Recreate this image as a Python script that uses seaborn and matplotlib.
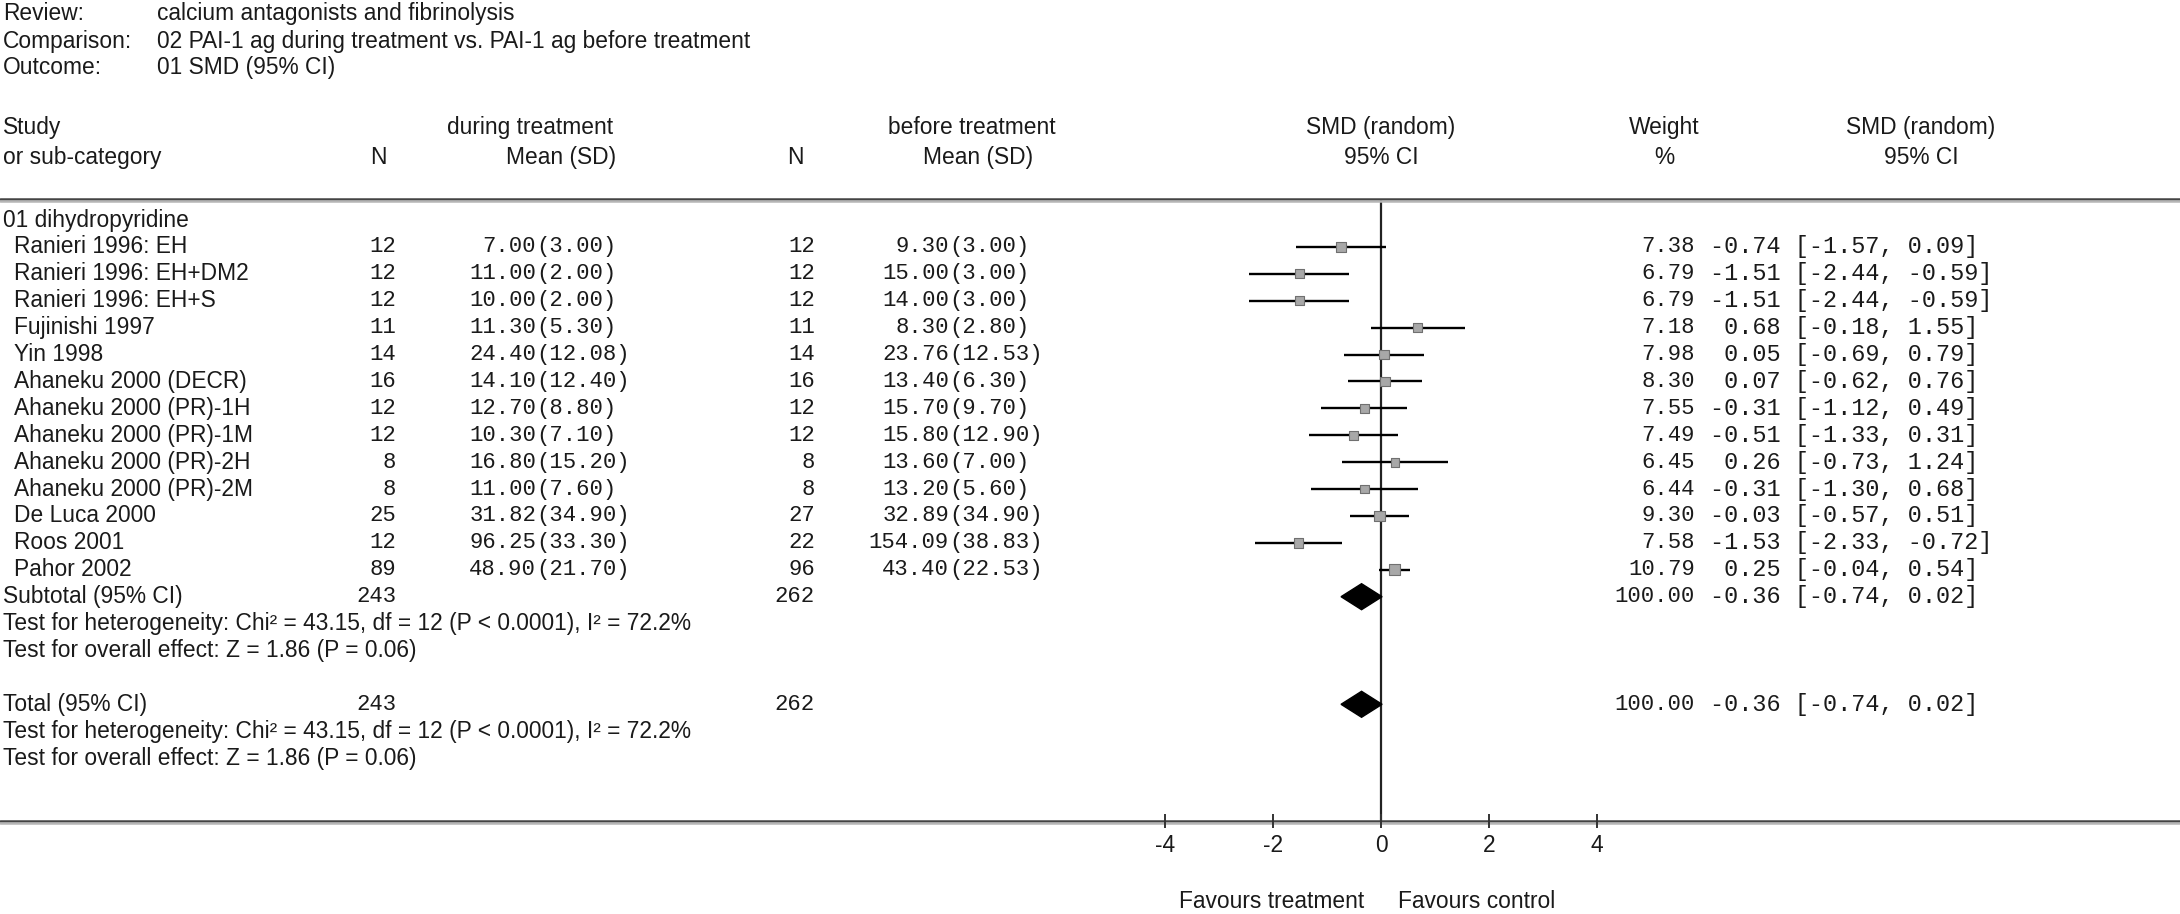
import numpy as np
import pandas as pd
import matplotlib
matplotlib.use("Agg")
import matplotlib.pyplot as plt
import matplotlib.transforms as mtransforms
import seaborn as sns

# ---- data ----
studies = ["Ranieri 1996: EH", "Ranieri 1996: EH+DM2", "Ranieri 1996: EH+S",
           "Fujinishi 1997", "Yin 1998", "Ahaneku 2000 (DECR)",
           "Ahaneku 2000 (PR)-1H", "Ahaneku 2000 (PR)-1M", "Ahaneku 2000 (PR)-2H",
           "Ahaneku 2000 (PR)-2M", "De Luca 2000", "Roos 2001", "Pahor 2002"]
n_during = [12, 12, 12, 11, 14, 16, 12, 12, 8, 8, 25, 12, 89]
mean_during = [7.00, 11.00, 10.00, 11.30, 24.40, 14.10, 12.70, 10.30, 16.80, 11.00, 31.82, 96.25, 48.90]
sd_during = [3.00, 2.00, 2.00, 5.30, 12.08, 12.40, 8.80, 7.10, 15.20, 7.60, 34.90, 33.30, 21.70]
n_before = [12, 12, 12, 11, 14, 16, 12, 12, 8, 8, 27, 22, 96]
mean_before = [9.30, 15.00, 14.00, 8.30, 23.76, 13.40, 15.70, 15.80, 13.60, 13.20, 32.89, 154.09, 43.40]
sd_before = [3.00, 3.00, 3.00, 2.80, 12.53, 6.30, 9.70, 12.90, 7.00, 5.60, 34.90, 38.83, 22.53]
weight = [7.38, 6.79, 6.79, 7.18, 7.98, 8.30, 7.55, 7.49, 6.45, 6.44, 9.30, 7.58, 10.79]
smd = [-0.74, -1.51, -1.51, 0.68, 0.05, 0.07, -0.31, -0.51, 0.26, -0.31, -0.03, -1.53, 0.25]
ci_lo = [-1.57, -2.44, -2.44, -0.18, -0.69, -0.62, -1.12, -1.33, -0.73, -1.30, -0.57, -2.33, -0.04]
ci_hi = [0.09, -0.59, -0.59, 1.55, 0.79, 0.76, 0.49, 0.31, 1.24, 0.68, 0.51, -0.72, 0.54]

pooled_smd, pooled_lo, pooled_hi = -0.36, -0.74, 0.02
total_during, total_before = 243, 262
x_ticks = [-4, -2, 0, 2, 4]

het_text = "Test for heterogeneity: Chi\u00b2 = 43.15, df = 12 (P < 0.0001), I\u00b2 = 72.2%"
eff_text = "Test for overall effect: Z = 1.86 (P = 0.06)"

df = pd.DataFrame({"study": studies, "smd": smd, "lo": ci_lo, "hi": ci_hi,
                   "weight": weight, "row": np.arange(len(studies))})

# ---- figure ----
sns.set_theme(style="white")
plt.rcParams["font.family"] = ["Liberation Sans", "DejaVu Sans"]
SANS = dict(family=["Liberation Sans", "DejaVu Sans"], fontsize=16.4, color="#1a1a1a")
MONO = dict(family=["Liberation Mono", "DejaVu Sans Mono"], fontsize=16, color="#1a1a1a")
MONO_CI = dict(MONO, fontsize=16.9)

W, H = 2180, 914
fig = plt.figure(figsize=(W / 100, H / 100), dpi=100)
ax = fig.add_axes([0, 0, 1, 1])
ax.axis("off")

ZERO_PX, UNIT_PX = 1381, 54.0
ROW0_PX, ROW_PX = 247, 26.9
ax.set_xlim(-ZERO_PX / UNIT_PX, (W - ZERO_PX) / UNIT_PX)
ax.set_ylim((H - ROW0_PX) / ROW_PX, -ROW0_PX / ROW_PX)

tr = mtransforms.blended_transform_factory(ax.transAxes, ax.transData)


def yrow(px):
    return (px - ROW0_PX) / ROW_PX


def put(xpx, y, s, ha="left", style=SANS):
    ax.text(xpx / W, y, s, transform=tr, ha=ha, va="center", **style)


# top info
for y, lab, val in [(yrow(14), "Review:", "calcium antagonists and fibrinolysis"),
                    (yrow(42), "Comparison:", "02 PAI-1 ag during treatment vs. PAI-1 ag before treatment"),
                    (yrow(68), "Outcome:", "01 SMD (95% CI)")]:
    put(3, y, lab)
    put(157, y, val)

# column headers
h1, h2 = yrow(128), yrow(158)
put(3, h1, "Study")
put(3, h2, "or sub-category")
put(530, h1, "during treatment", ha="center")
put(378, h2, "N", ha="center")
put(616, h2, "Mean (SD)", ha="right")
put(972, h1, "before treatment", ha="center")
put(795, h2, "N", ha="center")
put(1033, h2, "Mean (SD)", ha="right")
put(1381, h1, "SMD (random)", ha="center")
put(1381, h2, "95% CI", ha="center")
put(1664, h1, "Weight", ha="center")
put(1664, h2, "%", ha="center")
put(1921, h1, "SMD (random)", ha="center")
put(1921, h2, "95% CI", ha="center")

# rules across the page
top_rule = yrow(199)
axis_rule = yrow(821)
for base in (top_rule, axis_rule):
    ax.axhline(base, color="#444444", lw=1.8)
    ax.axhline(base + 2.5 / ROW_PX, color="#b5b5b5", lw=1.8)

# subgroup + study rows
put(3, -1, "01 dihydropyridine")
PAREN_D, PAREN_B = 536, 949
WEIGHT_R, CI_L = 1695, 1710
for i in range(len(studies)):
    put(14, i, studies[i])
    put(396, i, f"{n_during[i]}", ha="right", style=MONO)
    put(PAREN_D, i, f"{mean_during[i]:.2f}", ha="right", style=MONO)
    put(PAREN_D, i, f"({sd_during[i]:.2f})", style=MONO)
    put(815, i, f"{n_before[i]}", ha="right", style=MONO)
    put(PAREN_B, i, f"{mean_before[i]:.2f}", ha="right", style=MONO)
    put(PAREN_B, i, f"({sd_before[i]:.2f})", style=MONO)
    put(WEIGHT_R, i, f"{weight[i]:.2f}", ha="right", style=MONO)
    put(CI_L, i, f"{smd[i]:5.2f} [{ci_lo[i]:.2f}, {ci_hi[i]:.2f}]", style=MONO_CI)

# forest: CI lines and weighted squares
ax.hlines(df["row"], df["lo"], df["hi"], color="black", lw=1.7, zorder=2)
sns.scatterplot(data=df, x="smd", y="row", size="weight", sizes=(0, 72),
                size_norm=(0, 12), marker="s", color="#a8a8a8",
                edgecolor="#707070", linewidth=0.8, legend=False, ax=ax, zorder=3)

# pooled diamonds
n = len(studies)
summary_rows = [(n, "Subtotal (95% CI)"), (n + 4, "Total (95% CI)")]
half_h = 13 / ROW_PX
for r, lab in summary_rows:
    put(3, r, lab)
    put(396, r, f"{total_during}", ha="right", style=MONO)
    put(815, r, f"{total_before}", ha="right", style=MONO)
    put(WEIGHT_R, r, "100.00", ha="right", style=MONO)
    put(CI_L, r, f"{pooled_smd:5.2f} [{pooled_lo:.2f}, {pooled_hi:.2f}]", style=MONO_CI)
    put(3, r + 1, het_text)
    put(3, r + 2, eff_text)
    ax.fill([pooled_lo, pooled_smd, pooled_hi, pooled_smd],
            [r, r - half_h, r, r + half_h], color="black", zorder=4)

# line of no effect
ax.vlines(0, top_rule, axis_rule, color="#222222", lw=1.6, zorder=1)

# x ticks
tick_half = 7 / ROW_PX
ax.vlines(x_ticks, axis_rule - tick_half, axis_rule + tick_half, color="#333333", lw=1.4)
for t in x_ticks:
    ax.text(t, yrow(845), f"{t}", ha="center", va="center", **SANS)

fav_y = yrow(902)
ax.text(-17 / UNIT_PX, fav_y, "Favours treatment", ha="right", va="center", **SANS)
ax.text(17 / UNIT_PX, fav_y, "Favours control", ha="left", va="center", **SANS)

fig.savefig("out.png", dpi=100, facecolor="white")
